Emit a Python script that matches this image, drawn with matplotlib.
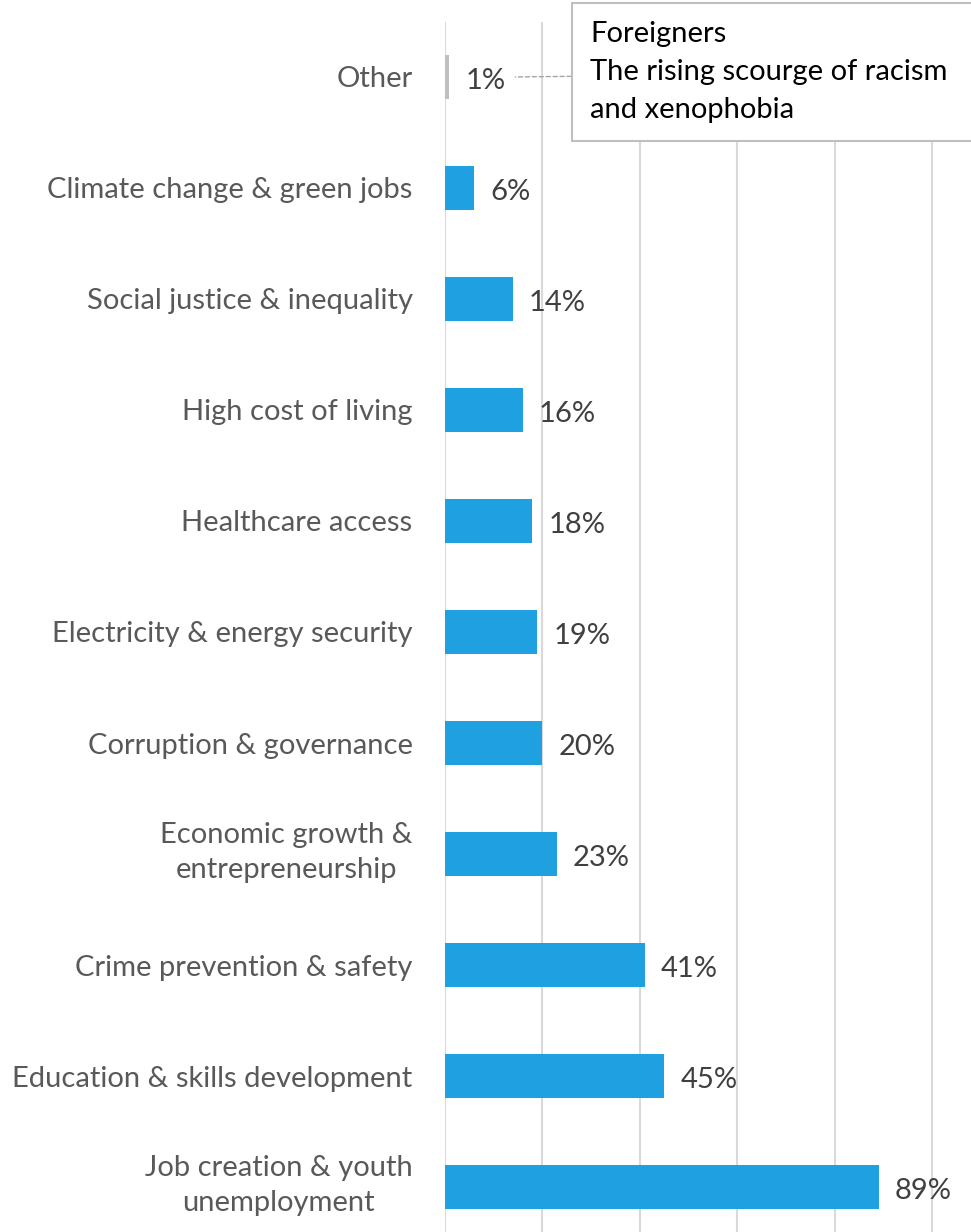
import matplotlib
matplotlib.use("Agg")
from matplotlib import pyplot as plt
from matplotlib.transforms import ScaledTranslation

# issues, bottom to top
issues = ["Job creation & youth\nunemployment",
          "Education & skills development",
          "Crime prevention & safety",
          "Economic growth &\nentrepreneurship",
          "Corruption & governance",
          "Electricity & energy security",
          "Healthcare access",
          "High cost of living",
          "Social justice & inequality",
          "Climate change & green jobs",
          "Other"]
shares = [89, 45, 41, 23, 20, 19, 18, 16, 14, 6, 1]
note = "Foreigners\nThe rising scourge of racism \nand xenophobia"

plt.rcParams["font.family"] = ["Lato", "DejaVu Sans"]

fig = plt.figure(figsize=(9.71, 12.32), dpi=100)
ax = fig.add_axes([444.5 / 971, 0, 1 - 444.5 / 971, 1210 / 1232])

colors = ["#1fa0e0"] * (len(shares) - 1) + ["#bfbfbf"]
pos = list(range(len(shares)))
ax.barh(pos, shares, height=0.4, color=colors, zorder=3)

for p, v in zip(pos, shares):
    ax.text(v + 3.3, p - 0.04, str(v) + "%", va="center", ha="left",
            fontsize=21, color="#404040", zorder=4)

ax.set_xlim(0, 107.9)
ax.set_ylim(-0.405, 10.495)
ax.set_xticks([0, 20, 40, 60, 80, 100])
ax.xaxis.grid(True, color="#d9d9d9", linewidth=1.5, zorder=0)
ax.set_xticklabels([])
ax.tick_params(axis="x", length=0)
ax.set_yticks(pos)
ax.tick_params(axis="y", length=0, pad=23)
ax.set_yticklabels(issues, fontsize=21, color="#595959", ha="right",
                   multialignment="center")
# two-line labels sit a little higher
lift = ScaledTranslation(0, 9 / 100, fig.dpi_scale_trans)
for lbl in ax.get_yticklabels():
    lbl.set_linespacing(1.45)
    if "\n" in lbl.get_text():
        lbl.set_transform(lbl.get_transform() + lift)
for s in ax.spines.values():
    s.set_visible(False)

# callout for the "Other" bar
ax.annotate(note, xy=(shares[-1] + 13.5, pos[-1]), xycoords="data",
            xytext=(590 / 971, (1232 - 21) / 1232), textcoords="figure fraction",
            ha="left", va="top", fontsize=21, color="#000000",
            linespacing=1.56,
            bbox=dict(boxstyle="square,pad=0.62", fc="white", ec="#bfbfbf", lw=1.5),
            arrowprops=dict(arrowstyle="-", color="#a6a6a6", ls=(0, (3, 2)), lw=1,
                            shrinkA=0, shrinkB=0,
                            relpos=(0, 0.457)),
            zorder=5, annotation_clip=False)

fig.savefig("out.png", dpi=100)
